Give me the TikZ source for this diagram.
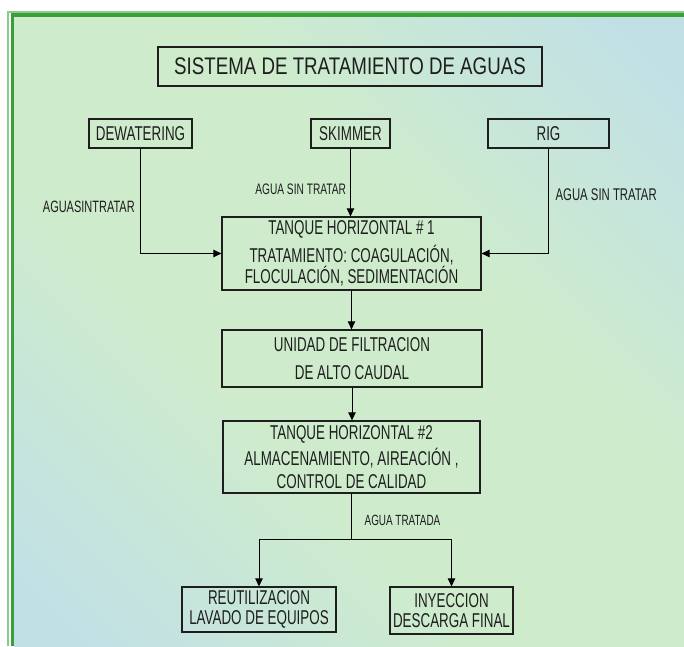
\documentclass[tikz,border=0pt]{standalone}
\usepackage{fontspec}
\setmainfont{Liberation Sans}[FakeStretch=0.67]
\newfontfamily\titlefont{Liberation Sans}[FakeStretch=0.78]
\usetikzlibrary{arrows.meta,positioning,calc}
\definecolor{wtGreen}{HTML}{CEECCC}
\definecolor{wtBlue}{HTML}{C1E0E6}
\definecolor{wtFrame}{HTML}{3A9E3A}
\definecolor{wtFrameLt}{HTML}{8CCB8C}
\definecolor{wtInk}{HTML}{1E1E1E}
\pgfdeclarehorizontalshading{wtbg}{100bp}{color(0bp)=(wtBlue); color(18bp)=(wtBlue);
  color(40bp)=(wtGreen); color(60bp)=(wtGreen); color(82bp)=(wtBlue); color(100bp)=(wtBlue)}

\begin{document}
\begin{tikzpicture}[x=0.75pt,y=-0.75pt,
  font=\fontsize{15}{14.6}\selectfont, >={Triangle[length=6pt,width=5.5pt]},
  box/.style={draw=wtInk,line width=0.85pt,align=center,inner sep=0pt,text=wtInk},
  src/.style={box,minimum height=21.75pt},
  lbl/.style={inner sep=0pt,text=wtInk,font=\fontsize{12.3}{13}\selectfont},
  flow/.style={->,line width=0.7pt,draw=black},
]
\useasboundingbox (0,0) rectangle (684,646);
% background and frame
\fill[white] (0,0) rectangle (684,646);
\shade[shading=wtbg,shading angle=45] (14,17) rectangle (684,646);
\draw[wtFrameLt,line width=0.8pt] (8,646) |- (684,12);
\draw[wtFrame,line width=2.8pt] (12.5,646) |- (684,15);

\node[box,minimum width=288pt,minimum height=29.25pt,font=\titlefont\fontsize{18}{18}\selectfont]
  (title) at (350,66.5) {SISTEMA DE TRATAMIENTO DE AGUAS};

% sources
\node[src,minimum width=77.25pt] (dew)  at (140.5,133.5) {DEWATERING};
\node[src,minimum width=59.25pt] (skim) at (350.5,133.5) {SKIMMER};
\node[src,minimum width=90.75pt] (rig)  at (548.5,133.5) {RIG};

% treatment line
\node[box,minimum width=194.25pt,minimum height=54.75pt] (tk1) at (351.5,253.5)
  {TANQUE HORIZONTAL \# 1\\[3.8pt]TRATAMIENTO: COAGULACIÓN,\\FLOCULACIÓN, SEDIMENTACIÓN};
\node[box,minimum width=195pt,minimum height=42.75pt] (filt) at (352,358.5)
  {UNIDAD DE FILTRACION\\[6.4pt]DE ALTO CAUDAL};
\node[box,minimum width=192.75pt,minimum height=54pt] (tk2) at (351.5,457)
  {TANQUE HORIZONTAL \#2\\[2.6pt]ALMACENAMIENTO, AIREACIÓN ,\\[2.6pt]CONTROL DE CALIDAD};

% outlets
\node[box,minimum width=115.5pt,minimum height=33.75pt] (reuse)  at (259,609.5)
  {REUTILIZACION\\LAVADO DE EQUIPOS};
\node[box,minimum width=92.25pt,minimum height=35.25pt] (inject) at (451.5,610.5)
  {INYECCION\\DESCARGA FINAL};

% raw water in
\draw[flow] (dew.south) |- node[lbl,pos=0.28,left=4pt]{AGUASINTRATAR} (tk1.west);
\draw[flow] (skim.south) -- node[lbl,pos=0.6,left=3pt,font=\fontsize{11.4}{12}\selectfont]{AGUA SIN TRATAR}
  (skim.south |- tk1.north);
\draw[flow] (rig.south) |- node[lbl,pos=0.22,right=5pt,font=\fontsize{12.7}{13}\selectfont]{AGUA SIN TRATAR} (tk1.east);
% main line
\draw[flow] (tk1.south) -- (tk1.south |- filt.north);
\draw[flow] (filt.south) -- (filt.south |- tk2.north);
% treated water out
\coordinate (split) at ($(tk2.south)+(0,46)$);
\draw[line width=0.7pt] (tk2.south) -- node[lbl,pos=0.59,right=9.5pt,font=\fontsize{11.1}{12}\selectfont]{AGUA TRATADA} (split);
\draw[flow] (split) -| (reuse.north);
\draw[flow] (split) -| (inject.north);
\end{tikzpicture}
\end{document}
